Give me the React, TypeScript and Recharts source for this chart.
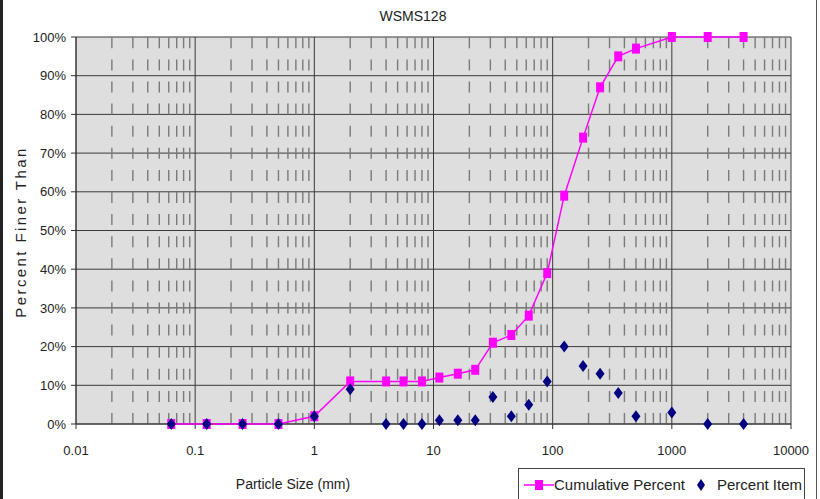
import React from 'react';
import { ScatterChart, Scatter, XAxis, YAxis, CartesianGrid, ReferenceLine } from 'recharts';

// sieve sizes (mm) and results
const sizes = [0.063, 0.125, 0.25, 0.5, 1, 2, 4, 5.6, 8, 11.2, 16, 22.4, 31.5, 45, 63, 90, 125, 180, 250, 355, 500, 1000, 2000, 4000];
const cumulativePercent = [0, 0, 0, 0, 2, 11, 11, 11, 11, 12, 13, 14, 21, 23, 28, 39, 59, 74, 87, 95, 97, 100, 100, 100];
const percentItem = [0, 0, 0, 0, 2, 9, 0, 0, 0, 1, 1, 1, 7, 2, 5, 11, 20, 15, 13, 8, 2, 3, 0, 0];

const xTicks = [0.01, 0.1, 1, 10, 100, 1000, 10000];
const yTicks = [0, 10, 20, 30, 40, 50, 60, 70, 80, 90, 100];
const decades = [0.01, 0.1, 1, 10, 100, 1000];
const minorSteps = [2, 3, 4, 5, 6, 7, 8, 9];

const MAGENTA = '#ff00ff';
const NAVY = '#000080';
const FONT = '"Liberation Sans", Arial, sans-serif';

const cumData = sizes.map((s, i) => ({ size: s, value: cumulativePercent[i] }));
const itemData = sizes.map((s, i) => ({ size: s, value: percentItem[i] }));
const minorLines = decades.flatMap((d) => minorSteps.map((m) => +(d * m).toPrecision(3)));

const SquareMark = (props: any) => {
  const { cx, cy } = props;
  return <rect x={cx - 4} y={cy - 5} width={8} height={10} fill={MAGENTA} />;
};

const DiamondMark = (props: any) => {
  const { cx, cy } = props;
  return <polygon points={`${cx},${cy - 6} ${cx + 4.5},${cy} ${cx},${cy + 6} ${cx - 4.5},${cy}`} fill={NAVY} />;
};

const App: React.FC = () => {
  return (
    <div style={{ position: 'absolute', left: 0, top: 0, width: 820, height: 499, background: '#fff', overflow: 'hidden', fontFamily: FONT }}>
      <div style={{ position: 'absolute', left: 0, top: 0, width: 3, height: 499, background: '#222' }} />
      <div style={{ position: 'absolute', left: 816, top: 0, width: 1, height: 499, background: '#555' }} />
      <div style={{ position: 'absolute', left: 0, width: 826, top: 8, textAlign: 'center', fontSize: 14, color: '#222' }}>WSMS128</div>

      <ScatterChart width={820} height={499} margin={{ top: 37, right: 29, bottom: 35, left: 0 }}>
        <CartesianGrid fill="#dedede" stroke="#3a3a3a" strokeWidth={1} />
        {minorLines.map((v) => (
          <ReferenceLine key={v} x={v} stroke="#7a7a7a" strokeWidth={1.4} strokeDasharray="11 11.1" />
        ))}
        <XAxis
          type="number"
          dataKey="size"
          scale="log"
          domain={[0.01, 10000]}
          ticks={xTicks}
          allowDataOverflow
          height={40}
          tickSize={5}
          tickMargin={17}
          stroke="#333"
          tick={{ fill: '#222', fontSize: 13, fontFamily: FONT }}
        />
        <YAxis
          type="number"
          dataKey="value"
          domain={[0, 100]}
          ticks={yTicks}
          width={76}
          tickSize={5}
          tickMargin={5}
          stroke="#333"
          tickFormatter={(v) => `${v}%`}
          tick={{ fill: '#222', fontSize: 13, fontFamily: FONT }}
        />
        <Scatter
          name="Cumulative Percent"
          data={cumData}
          fill={MAGENTA}
          line={{ stroke: MAGENTA, strokeWidth: 1.5 }}
          shape={SquareMark}
          isAnimationActive={false}
        />
        <Scatter name="Percent Item" data={itemData} fill={NAVY} shape={DiamondMark} isAnimationActive={false} />
      </ScatterChart>

      <div
        style={{
          position: 'absolute', left: 20, top: 232, transform: 'translate(-50%, -50%) rotate(-90deg)',
          whiteSpace: 'nowrap', fontSize: 15, letterSpacing: 2.4, color: '#222',
        }}
      >
        Percent Finer Than
      </div>
      <div style={{ position: 'absolute', left: 293, top: 484, transform: 'translate(-50%, -50%)', whiteSpace: 'nowrap', fontSize: 14, color: '#222' }}>
        Particle Size (mm)
      </div>

      <div
        style={{
          position: 'absolute', left: 518, top: 468, width: 287, height: 40, boxSizing: 'border-box',
          border: '1px solid #444', background: '#fff', fontSize: 15, color: '#222',
        }}
      >
        <svg width={32} height={20} style={{ position: 'absolute', left: 4, top: 6 }}>
          <line x1={1} y1={10} x2={31} y2={10} stroke={MAGENTA} strokeWidth={1.5} />
          <rect x={12} y={5} width={8} height={10} fill={MAGENTA} />
        </svg>
        <span style={{ position: 'absolute', left: 35, top: 7 }}>Cumulative Percent</span>
        <svg width={12} height={16} style={{ position: 'absolute', left: 176, top: 8 }}>
          <polygon points="6,2 10,8 6,14 2,8" fill={NAVY} />
        </svg>
        <span style={{ position: 'absolute', left: 198, top: 7 }}>Percent Item</span>
      </div>
    </div>
  );
};

export default App;
